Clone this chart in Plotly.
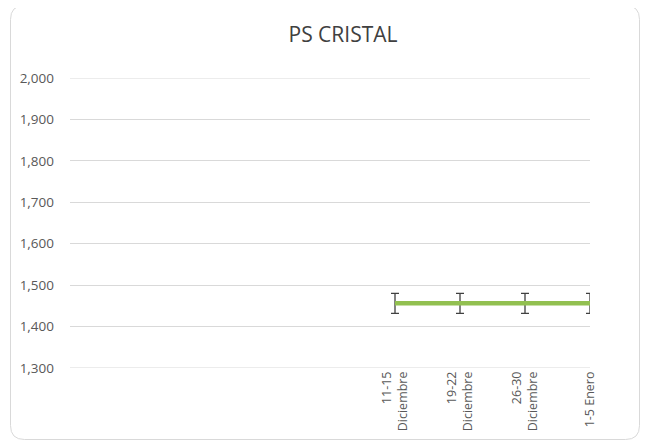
import plotly.graph_objects as go

categories = ["", "", "", "", "", "11-15<br>Diciembre", "19-22<br>Diciembre", "26-30<br>Diciembre", "1-5 Enero"]
values = [None, None, None, None, None, 1456, 1456, 1456, 1456]
errors = [0, 0, 0, 0, 0, 24, 24, 24, 24]
y_ticks = [1300, 1400, 1500, 1600, 1700, 1800, 1900, 2000]

OFF = 8  # page body margin
W, H = 648 - OFF, 445 - OFF
L, R, T, B = 70 - OFF, 58, 78 - OFF, 77
pw, ph = W - L - R, H - T - B

def px(x):
    return (x - OFF - L) / pw

def py(y):
    return (H - B - (y - OFF)) / ph

xs = list(range(len(categories)))
fig = go.Figure()
fig.add_trace(go.Scatter(
    x=xs, y=values, mode="lines",
    line=dict(color="#92C050", width=4.5),
    error_y=dict(type="data", array=errors, visible=True, color="#404040", thickness=1.3, width=4),
    showlegend=False, hoverinfo="skip", cliponaxis=False,
))

# edge gridlines (plotly omits gridlines at the range edges)
for v in (y_ticks[0], y_ticks[-1]):
    fig.add_shape(type="line", xref="paper", yref="y", x0=0, x1=1, y0=v, y1=v,
                  line=dict(color="#D9D9D9", width=1), layer="below")

# rounded chart border
x0, x1, y0, y1, r = 10.5, 639.5, 5.5, 439.5, 14
path = (f"M {px(x0+r)},{py(y0)} L {px(x1-r)},{py(y0)} Q {px(x1)},{py(y0)} {px(x1)},{py(y0+r)} "
        f"L {px(x1)},{py(y1-r)} Q {px(x1)},{py(y1)} {px(x1-r)},{py(y1)} "
        f"L {px(x0+r)},{py(y1)} Q {px(x0)},{py(y1)} {px(x0)},{py(y1-r)} "
        f"L {px(x0)},{py(y0+r)} Q {px(x0)},{py(y0)} {px(x0+r)},{py(y0)} Z")
fig.add_shape(type="path", path=path, xref="paper", yref="paper",
              line=dict(color="#D9D9D9", width=1), layer="below")

fig.update_layout(
    width=W, height=H,
    margin=dict(l=L, r=R, t=T, b=B),
    paper_bgcolor="white", plot_bgcolor="white",
    font=dict(family="Open Sans, Liberation Sans, sans-serif", color="#595959", size=12),
    title=dict(text="PS CRISTAL", x=(343 - OFF) / W, xanchor="center", y=1 - (35 - OFF) / H, yanchor="middle",
               font=dict(size=21, color="#404040")),
    xaxis=dict(range=[0, len(categories) - 1], tickmode="array", tickvals=xs[5:], ticktext=categories[5:],
               tickangle=-90, showgrid=False, zeroline=False, showline=False, ticks="",
               tickfont=dict(size=12.5, color="#595959")),
    yaxis=dict(range=[1300, 2000], tickmode="array", tickvals=y_ticks,
               ticktext=[f"{v:,}" for v in y_ticks], showgrid=True, gridcolor="#D9D9D9", gridwidth=1,
               zeroline=False, showline=False, ticks="", ticklabelstandoff=15,
               tickfont=dict(size=13.5, color="#595959")),
)
fig.write_html("out.html")
